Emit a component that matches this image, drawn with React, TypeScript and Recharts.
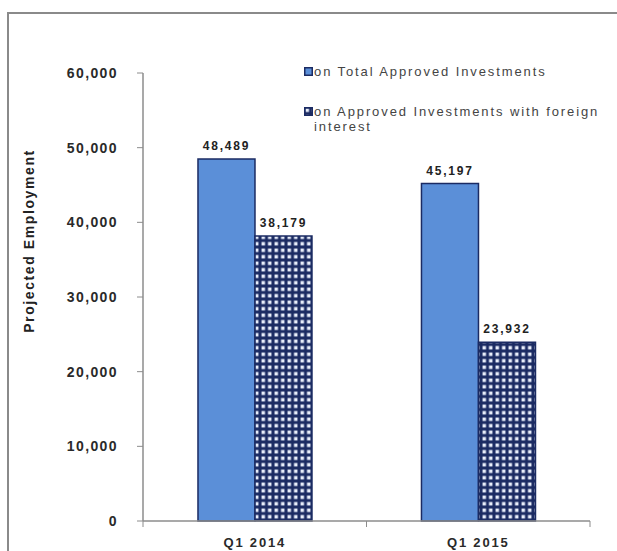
import { BarChart, Bar, XAxis, YAxis, LabelList } from "recharts";

const categories = ["Q1 2014", "Q1 2015"];
const totalApproved = [48489, 45197];
const foreignInterest = [38179, 23932];
const yTicks = [0, 10000, 20000, 30000, 40000, 50000, 60000];
const seriesNames = ["on Total Approved Investments", "on Approved Investments with foreign interest"];

const data = categories.map((name, i) => ({
  name,
  total: totalApproved[i],
  foreign: foreignInterest[i],
}));

const W = 617;
const H = 551;
const M = { top: 73, right: 27, bottom: 0, left: 0 };
const Y_AXIS_W = 143;
const X_AXIS_H = 30;
const FONT = "'Liberation Sans', Arial, sans-serif";
const BLUE = "#5b8fd8";
const NAVY = "#1b2b63";
const AXIS = "#8c8c8c";

const bandWidth = (W - Y_AXIS_W - M.right) / categories.length;

const fmt = (v: number) => v.toLocaleString("en-US");

const YTick = (props: any) => {
  const { x, y, payload } = props;
  return (
    <g>
      <line x1={x + 14} x2={x + 20} y1={y} y2={y} stroke={AXIS} strokeWidth={1} />
      <text
        x={x - 5}
        y={y}
        dy={5}
        textAnchor="end"
        fontFamily={FONT}
        fontSize={14}
        fontWeight="bold"
        letterSpacing={1.4}
        fill="#2a2a2a"
      >
        {fmt(payload.value)}
      </text>
    </g>
  );
};

const XTick = (props: any) => {
  const { x, y, payload, index } = props;
  const half = bandWidth / 2;
  return (
    <g>
      <line x1={x - half} x2={x - half} y1={y} y2={y + 6} stroke={AXIS} />
      {index === categories.length - 1 && (
        <line x1={x + half} x2={x + half} y1={y} y2={y + 6} stroke={AXIS} />
      )}
      <text
        x={x}
        y={y + 26}
        textAnchor="middle"
        fontFamily={FONT}
        fontSize={13}
        fontWeight="bold"
        letterSpacing={1.8}
        fill="#2a2a2a"
      >
        {payload.value}
      </text>
    </g>
  );
};

const LegendBox = () => (
  <div
    style={{
      position: "absolute",
      left: 304,
      top: 64,
      width: 300,
      fontFamily: FONT,
      fontSize: 13,
      color: "#444",
      letterSpacing: 1.9,
      lineHeight: "15px",
    }}
  >
    {seriesNames.map((n, i) => (
      <div key={n} style={{ display: "flex", alignItems: "flex-start", marginBottom: i === 0 ? 25 : 0 }}>
        <svg width={9} height={9} style={{ marginTop: 3, marginRight: 1, flexShrink: 0 }}>
          <rect
            x={0.75}
            y={0.75}
            width={7.5}
            height={7.5}
            fill={i === 0 ? BLUE : "url(#dots)"}
            stroke={NAVY}
            strokeWidth={1.5}
          />
        </svg>
        <span style={{ width: 290 }}>{n}</span>
      </div>
    ))}
  </div>
);

export default function App() {
  return (
    <div style={{ position: "fixed", left: 0, top: 0, width: W, height: H, background: "#fff", overflow: "hidden" }}>
      <style>{`html,body{margin:0;overflow:hidden;background:#fff;}`}</style>
      <div style={{ position: "absolute", left: 7, top: 12, width: W - 7, height: 2, background: "#8a8a8a" }} />
      <div style={{ position: "absolute", left: 7, top: 12, width: 2, height: H - 12, background: "#8a8a8a" }} />
      <svg width={0} height={0} style={{ position: "absolute" }}>
        <defs>
          <pattern id="dots" width={6.5} height={6.5} patternUnits="userSpaceOnUse">
            <rect width={6.5} height={6.5} fill={NAVY} />
            <rect x={1.5} y={1.5} width={3.5} height={3.5} fill="#e8eefa" />
          </pattern>
        </defs>
      </svg>
      <BarChart
        width={W}
        height={H}
        data={data}
        margin={M}
        barCategoryGap="24.6%"
        barGap={0}
        style={{ position: "absolute", left: 0, top: 0 }}
      >
        <defs>
          <pattern id="dotsBar" width={6.5} height={6.5} patternUnits="userSpaceOnUse">
            <rect width={6.5} height={6.5} fill={NAVY} />
            <rect x={1.5} y={1.5} width={3.5} height={3.5} fill="#e8eefa" />
          </pattern>
        </defs>
        <XAxis
          dataKey="name"
          height={X_AXIS_H}
          tickSize={0}
          tickMargin={0}
          tick={<XTick />}
          axisLine={{ stroke: AXIS, strokeWidth: 1.5 }}
          interval={0}
        />
        <YAxis
          width={Y_AXIS_W}
          domain={[0, 60000]}
          ticks={yTicks}
          tickSize={0}
          tickMargin={20}
          tick={<YTick />}
          axisLine={{ stroke: AXIS, strokeWidth: 1.5 }}
          label={() => (
            <text
              x={30}
              y={241}
              transform="rotate(-90 30 241)"
              textAnchor="middle"
              dominantBaseline="middle"
              fontFamily={FONT}
              fontSize={14}
              fontWeight="bold"
              letterSpacing={1.6}
              fill="#222"
            >
              Projected Employment
            </text>
          )}
        />
        <Bar dataKey="total" name={seriesNames[0]} fill={BLUE} stroke={NAVY} strokeWidth={1.5} isAnimationActive={false}>
          <LabelList
            dataKey="total"
            position="top"
            offset={9}
            formatter={(v: any) => fmt(Number(v))}
            style={{ fontFamily: FONT, fontSize: 12, fontWeight: "bold", letterSpacing: 1.8, fill: "#222" }}
          />
        </Bar>
        <Bar dataKey="foreign" name={seriesNames[1]} fill="url(#dotsBar)" stroke={NAVY} strokeWidth={1.5} isAnimationActive={false}>
          <LabelList
            dataKey="foreign"
            position="top"
            offset={9}
            formatter={(v: any) => fmt(Number(v))}
            style={{ fontFamily: FONT, fontSize: 12, fontWeight: "bold", letterSpacing: 1.8, fill: "#222" }}
          />
        </Bar>
      </BarChart>
      <LegendBox />
    </div>
  );
}
